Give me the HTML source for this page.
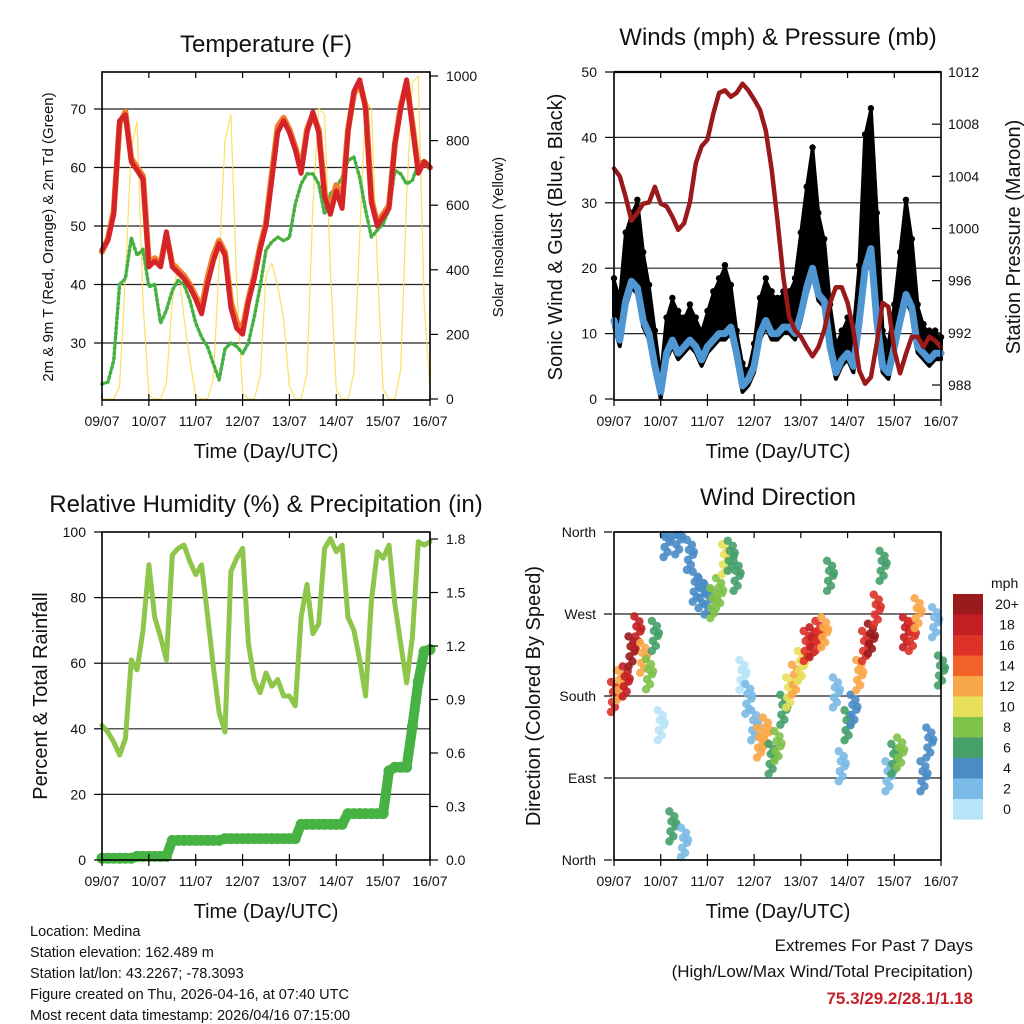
<!DOCTYPE html>
<html><head><meta charset="utf-8"><style>
html,body{margin:0;padding:0;background:#fff;}
svg{display:block;font-family:"Liberation Sans",Arial,sans-serif;}
</style></head><body>
<svg id="fig" width="1024" height="1024" viewBox="0 0 1024 1024" xmlns="http://www.w3.org/2000/svg">
<rect width="1024" height="1024" fill="#fff"/>
<g id="p1"></g>
<g id="p2"></g>
<g id="p3"></g>
<g id="p4"></g>
<g id="txt" font-size="14.5" fill="#111">
<text x="30" y="936">Location: Medina</text>
<text x="30" y="957">Station elevation: 162.489 m</text>
<text x="30" y="978">Station lat/lon: 43.2267; -78.3093</text>
<text x="30" y="999">Figure created on Thu, 2026-04-16, at 07:40 UTC</text>
<text x="30" y="1020">Most recent data timestamp: 2026/04/16 07:15:00</text>
</g>
<g font-size="17" text-anchor="end">
<text x="973" y="951" fill="#111">Extremes For Past 7 Days</text>
<text x="973" y="977" fill="#111">(High/Low/Max Wind/Total Precipitation)</text>
<text x="973" y="1004" fill="#c8202a" font-weight="bold">75.3/29.2/28.1/1.18</text>
</g>
</svg>
<script>
// ---- data (3-hourly, 57 samples from 09/07 00 UTC to 16/07 00 UTC) ----
const dayLabels = ["09/07","10/07","11/07","12/07","13/07","14/07","15/07","16/07"];
const temp2m = [45.9,47.5,52,68,69,61,59.5,58,43,44,43,49,43,42,41,39.5,37.5,35,40,44,47,45,36,32.5,31.5,37,41,46,50,58,66,68,66,63,59,66,69.5,66,55,52,56,53,66,73,75,70,54,50,51.5,53,64,70,75,67,59,61,60];
const temp9m = [45.6,47.8,52.5,67.5,69.5,61.5,60,58.5,43.5,44.5,43.5,48.5,43.5,42.5,41.5,40,38,36,41,45,47.5,45.5,37,33.5,32.5,37.5,41.5,46.5,50.5,59,67,68.5,66.5,63.5,59.5,66.5,69,66.5,55.5,53,57,54,66.5,72.5,74.5,70.5,54.5,50.5,52,53.5,64,70.5,74.5,67.5,59.5,61,60];
const dewpt = [23,23.3,27,40,41,48,45,46,39.6,40,33.4,35.6,39,40.7,40,37.3,33.4,31,29.4,26.5,23.7,29,30,29.4,28.2,30,34.5,39.6,45.9,47.3,48.1,47.5,48,53.8,57.2,58.9,58.9,57.2,52,55.5,56.6,58.3,61.2,61.8,58.3,52.7,48.1,49.3,50.4,52.7,59.5,58.9,57.2,57.8,60.6,61.2,60];
const solar = [0,0,0,40,380,780,860,300,10,0,0,50,300,420,250,120,10,0,0,60,420,800,880,350,20,0,0,70,380,420,350,250,40,0,0,80,600,900,880,400,30,0,0,80,500,920,900,420,30,0,0,90,620,980,1000,300,30];
const windMean = [12,9,15,18,17,12,10,5,1,7,9,7,8,9,8,6,8,9,10,10,11,7,2,3,5,10,12,10,10,11,11,10,13,17,20,16,15,8,4,6,7,5,12,20,23,12,5,4,8,12,16,14,8,7,6,7,7];
const windGust = [18,15,25,28,30,22,17,10,3,12,15,13,12,14,12,10,13,16,18,20,17,10,5,4,8,15,18,16,15,16,16,18,25,32,38,28,24,14,8,10,12,10,20,40,44,28,10,8,14,22,30,24,14,11,10,10,9];
const pressure = [1004.6,1004,1002.4,1000.6,1001.2,1001.9,1002,1003.2,1001.9,1001.7,1000.9,999.9,1000.4,1002,1005,1006.3,1006.8,1008.8,1010.4,1010.6,1010.1,1010.4,1011.1,1010.6,1009.9,1009.1,1007.5,1004.5,1000.6,996.3,993.2,992.2,991.7,990.9,990.2,990.9,992.2,994.3,995.5,995.5,994.3,992.2,989.1,988.1,988.6,991.2,994.3,994,990.7,988.9,990.4,991.7,991.7,990.9,991.7,991.4,990.9];
const relHum = [41,39,36,32,37,61,58,70,90,74,68,61,93,95,96,91,87,90,75,59,45,39,88,92,95,66,55,51,57,53,55,50,50,47,74,84,69,72,95,98,94,96,74,70,61,50,79,94,92,96,78,66,54,68,97,96,97];
const precip = [0.01,0.01,0.01,0.01,0.01,0.01,0.02,0.02,0.02,0.02,0.02,0.02,0.11,0.11,0.11,0.11,0.11,0.11,0.11,0.11,0.11,0.12,0.12,0.12,0.12,0.12,0.12,0.12,0.12,0.12,0.12,0.12,0.12,0.12,0.2,0.2,0.2,0.2,0.2,0.2,0.2,0.2,0.26,0.26,0.26,0.26,0.26,0.26,0.26,0.5,0.52,0.52,0.52,0.75,1.0,1.17,1.18];
const windDir = [180,193,197,230,252,223,205,247,149,350,38,353,20,336,301,294,287,283,294,331,335,313,204,178,149,130,141,112,126,166,185,199,214,236,240,247,251,313,185,104,149,166,204,236,244,276,324,93,112,119,251,247,272,93,130,262,209];
const dirSpeed = [16,12,19,20,18,12,9,7,1,4,6,4,3,4,4,4,4,8,8,10,7,6,1,2,3,12,13,7,8,7,10,12,10,16,18,17,13,6,3,2,6,4,13,17,20,16,6,3,7,8,18,16,13,4,4,3,6];
const tempTicks = [30,40,50,60,70];
const solarTicks = [0,200,400,600,800,1000];
const windTicks = [0,10,20,30,40,50];
const presTicks = [988,992,996,1000,1004,1008,1012];
const rhTicks = [0,20,40,60,80,100];
const rainTicks = [0.0,0.3,0.6,0.9,1.2,1.5,1.8];
const dirTicks = [0,90,180,270,360];
const dirNames = ["North","East","South","West","North"];
const cbLabels = ["20+","18","16","14","12","10","8","6","4","2","0"];
const cbColors = ["#9b1a1c","#c11f24","#dc3228","#f2632a","#f8a748","#e8e05a","#80c24a","#45a06a","#4a8cc6","#7bb9e6","#b8e3f8"];

const NS="http://www.w3.org/2000/svg";
function mk(parent,tag,attrs){const e=document.createElementNS(NS,tag);for(const k in attrs)e.setAttribute(k,attrs[k]);parent.appendChild(e);return e;}
function lin(d0,d1,r0,r1){return v=>r0+(v-d0)*(r1-r0)/(d1-d0);}

function frame(g,L,R,T,B,xs){
  const r=mk(g,'rect',{x:L,y:T,width:R-L,height:B-T,fill:'none',stroke:'#000','stroke-width':1.6});
  
  
  dayLabels.forEach((lab,i)=>{
    const x=xs(i);
    const t=mk(g,'line',{x1:x,x2:x,y1:B-6,y2:B+6,stroke:'#000','stroke-width':1.2});
    
    
    const t2=mk(g,'line',{x1:x,x2:x,y1:T,y2:T+6,stroke:'#000','stroke-width':1.2});
    
    
    const tx=mk(g,'text',{x:x,y:B+26,'text-anchor':'middle','font-size':14,fill:'#111'});
    tx.textContent=lab;
    
    
  });
}
function hgrid(g,L,R,y,w){
  const l=mk(g,'line',{x1:L,x2:R,y1:y,y2:y,stroke:'#222','stroke-width':w||1.2});
  
  
}
function ylab(g,x,y,txt,anchor,cls){
  const t=mk(g,'text',{x:x,y:y+5,'text-anchor':anchor,'font-size':14,fill:'#111'});
  t.textContent=txt;
  
  
  const tk=mk(g,'line',{x1:anchor==='end'?x+8:x-8,x2:anchor==='end'?x+16:x-16,y1:y,y2:y,stroke:'#000','stroke-width':1.2});
  
  
}
function title(g,x,y,txt,size,name,rot){
  const t=mk(g,'text',{x:x,y:y,'text-anchor':'middle','font-size':size,fill:'#111'});
  if(rot) t.setAttribute('transform','rotate(-90 '+x+' '+y+')');
  t.textContent=txt;
  
  
}
function pts(arr,xs,ys){return arr.map((v,i)=>xs(i/8).toFixed(1)+','+ys(v).toFixed(1)).join(' ');}
function pline(g,arr,xs,ys,color,w,name,extra){
  const p=mk(g,'polyline',Object.assign({points:pts(arr,xs,ys),fill:'none',stroke:color,'stroke-width':w,'stroke-linejoin':'round','stroke-linecap':'round'},extra||{}));
  
  
  return p;
}

// ---- Panel 1: Temperature ----
(function(){
  const g=document.getElementById('p1');
  const L=102,R=430,T=72,B=400;
  const xs=lin(0,7,L,R), ys=lin(30,40,343,284.5), ss=lin(0,1000,399,76);
  tempTicks.forEach(v=>hgrid(g,L,R,ys(v)));
  pline(g,solar,xs,ss,'#f7dc4a',1.2,'solar-insolation-line',{opacity:0.85});
  pline(g,dewpt,xs,ys,'#47b043',3.5,'dewpoint-line',{'stroke-dasharray':'2 3'});
  pline(g,temp9m,xs,ys,'#f07e2a',6,'temp-9m-line');
  pline(g,temp2m,xs,ys,'#d4242a',5,'temp-2m-line');
  frame(g,L,R,T,B,xs);
  tempTicks.forEach(v=>ylab(g,86,ys(v),String(v),'end','y-left-tick-label'));
  solarTicks.forEach(v=>ylab(g,446,ss(v),String(v),'start','y-right-tick-label'));
  title(g,266,52,'Temperature (F)',24,'chart-title');
  title(g,266,458,'Time (Day/UTC)',20,'x-axis-title');
  title(g,53,237,'2m & 9m T (Red, Orange) & 2m Td (Green)',15,'y-left-axis-title',true);
  title(g,503,237,'Solar Insolation (Yellow)',15,'y-right-axis-title',true);
})();

// ---- Panel 2: Winds & Pressure ----
(function(){
  const g=document.getElementById('p2');
  const L=614,R=941,T=72,B=400;
  const xs=lin(0,7,L,R), ys=lin(0,50,399,72), ps=lin(988,1012,385,72);
  [10,20,30,40].forEach(v=>hgrid(g,L,R,ys(v)));
  hgrid(g,L,R,ys(50),2.2);
  const up=windGust.map((v,i)=>xs(i/8).toFixed(1)+','+ys(v).toFixed(1));
  const lo=windMean.map((v,i)=>xs(i/8).toFixed(1)+','+(ys(v)+6).toFixed(1)).reverse();
  const band=mk(g,'polygon',{points:up.concat(lo).join(' '),fill:'#000',stroke:'#000','stroke-width':4,'stroke-linejoin':'round'});
  
  
  windGust.forEach((v,i)=>{
    const c=mk(g,'circle',{cx:xs(i/8),cy:ys(v)-3,r:3.2,fill:'#000'});
    
    
  });
  pline(g,windMean,xs,ys,'#4f97d2',7,'sonic-wind-line');
  pline(g,pressure,xs,ps,'#9a1a1c',4.5,'pressure-line');
  frame(g,L,R,T,B,xs);
  windTicks.forEach(v=>ylab(g,597,ys(v),String(v),'end','y-left-tick-label'));
  presTicks.forEach(v=>ylab(g,948,ps(v),String(v),'start','y-right-tick-label'));
  title(g,778,45,'Winds (mph) & Pressure (mb)',24,'chart-title');
  title(g,778,458,'Time (Day/UTC)',20,'x-axis-title');
  title(g,562,237,'Sonic Wind & Gust (Blue, Black)',20,'y-left-axis-title',true);
  title(g,1020,237,'Station Pressure (Maroon)',20,'y-right-axis-title',true);
})();

// ---- Panel 3: RH & Precip ----
(function(){
  const g=document.getElementById('p3');
  const L=102,R=430,T=532,B=860;
  const xs=lin(0,7,L,R), ys=lin(0,100,860,532), rs=lin(0,1.8,860,539);
  [20,40,60,80].forEach(v=>hgrid(g,L,R,ys(v)));
  pline(g,relHum,xs,ys,'#8dc64b',5,'relative-humidity-line');
  pline(g,precip,xs,rs,'#46b243',10,'precipitation-line');
  precip.forEach((v,i)=>{
    const c=mk(g,'circle',{cx:xs(i/8),cy:rs(v),r:5.5,fill:'#46b243'});
    
    
  });
  frame(g,L,R,T,B,xs);
  rhTicks.forEach(v=>ylab(g,86,ys(v),String(v),'end','y-left-tick-label'));
  rainTicks.forEach(v=>ylab(g,446,rs(v),v.toFixed(1),'start','y-right-tick-label'));
  title(g,266,512,'Relative Humidity (%) & Precipitation (in)',24,'chart-title');
  title(g,266,918,'Time (Day/UTC)',20,'x-axis-title');
  title(g,47,696,'Percent & Total Rainfall',20,'y-left-axis-title',true);
})();

// ---- Panel 4: Wind direction ----
(function(){
  const g=document.getElementById('p4');
  const L=614,R=941,T=532,B=860;
  const xs=lin(0,7,L,R), ys=lin(0,360,860,532);
  dirTicks.forEach(v=>hgrid(g,L,R,ys(v)));
  function col(s){let k=Math.min(10,Math.floor(s/2));return cbColors[10-k];}
  const offs=[[-3,-14],[2,-9],[-1,-4],[3,1],[-2,6],[1,11],[-3,16],[4,-2]];
  windDir.forEach((d,i)=>{
    offs.forEach(o=>{
      const y=Math.max(T+3,Math.min(B-3,ys(d)+o[1]));
      const c=mk(g,'circle',{cx:xs(i/8)+o[0],cy:y,r:4.2,fill:col(dirSpeed[i]),opacity:0.9});
      
      
    });
  });
  frame(g,L,R,T,B,xs);
  dirTicks.forEach((v,i)=>ylab(g,596,ys(v),dirNames[i],'end','y-tick-label'));
  title(g,778,505,'Wind Direction',24,'chart-title');
  title(g,778,918,'Time (Day/UTC)',20,'x-axis-title');
  title(g,540,696,'Direction (Colored By Speed)',20,'y-left-axis-title',true);
  const cb=mk(g,'g',{});
  
  
  const u=mk(cb,'text',{x:991,y:588,'font-size':14,fill:'#111'});
  u.textContent='mph';
  
  
  cbColors.forEach((c,i)=>{
    const r=mk(cb,'rect',{x:953,y:594+i*20.5,width:30,height:20.6,fill:c});
    
    
    const t=mk(cb,'text',{x:1007,y:609+i*20.5,'text-anchor':'middle','font-size':14,fill:'#111'});
    t.textContent=cbLabels[i];
    
    
  });
})();
</script>
</body></html>
